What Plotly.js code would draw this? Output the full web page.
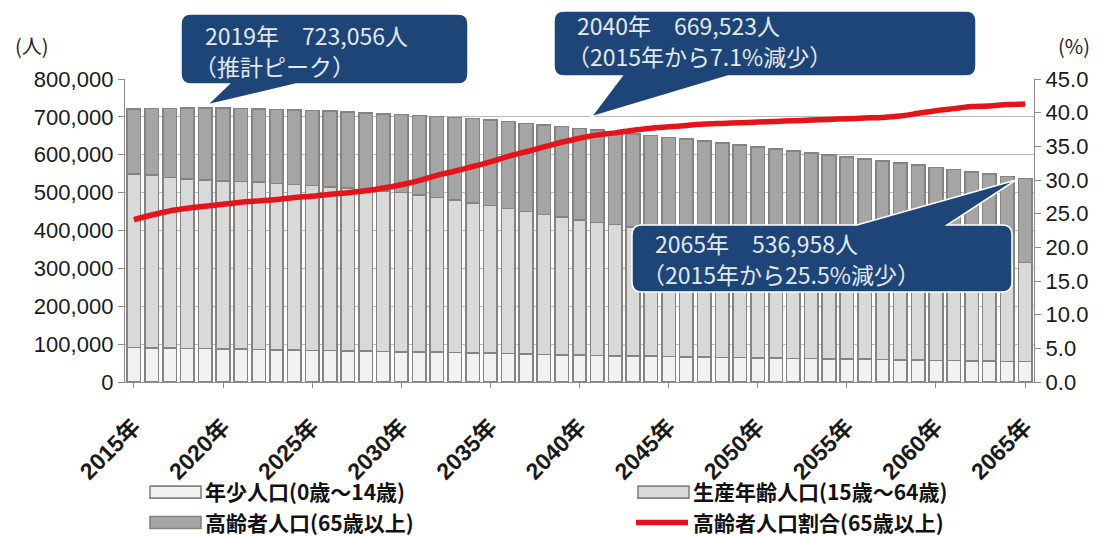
<!DOCTYPE html>
<html>
<head>
<meta charset="utf-8">
<script src="https://cdn.plot.ly/plotly-3.0.1.min.js"></script>
<style>
  html, body { margin: 0; padding: 0; background: #ffffff; }
  #chart { width: 1104px; height: 536px; }
</style>
</head>
<body>
<div id="chart"></div>
<script>
// ---------------- data ----------------
const years = [2015,2016,2017,2018,2019,2020,2021,2022,2023,2024,2025,2026,2027,2028,2029,2030,
  2031,2032,2033,2034,2035,2036,2037,2038,2039,2040,2041,2042,2043,2044,2045,2046,2047,2048,2049,2050,
  2051,2052,2053,2054,2055,2056,2057,2058,2059,2060,2061,2062,2063,2064,2065];

const tickYears = [2015,2020,2025,2030,2035,2040,2045,2050,2055,2060,2065];
const tickLabels = ["2015年","2020年","2025年","2030年","2035年","2040年","2045年","2050年","2055年","2060年","2065年"];

// 年少人口 (0歳～14歳)
const young = [91000,90000,89000,88500,88000,87500,86500,85500,84800,84000,83500,83000,82000,81200,80500,80000,
  79500,78500,77500,76500,76000,75000,74000,73000,72000,71000,70000,69000,68500,68000,67500,66500,66000,65000,64500,64000,
  63000,62500,62000,61500,61000,60000,59500,58500,58000,57000,56500,55500,55000,54500,54000];

// 生産年齢人口 (15歳～64歳)
const working = [458100,456500,451400,447500,446000,443500,443000,442000,439700,437000,435500,432000,430000,427300,424500,420500,
  414500,408500,402500,396500,390000,383500,376000,369500,363000,356500,351500,346500,341500,337300,333500,330300,326500,323800,320500,317200,
  314400,311100,307700,304300,300900,298100,294600,291100,286000,281300,276700,272500,268900,264800,261200];

// 高齢者人口 (65歳以上)
const elderly = [171600,175300,182100,186900,189056,191700,192500,193500,195300,197300,197700,199800,200800,202100,203300,206000,
  210000,214500,218500,222200,225500,228800,233000,236100,239100,242023,243400,244700,245400,245300,244800,244200,243600,242300,241000,239700,
  238300,236800,235400,233900,232400,230800,229300,228300,228300,228400,227700,227000,225100,223800,221758];

// 高齢者人口割合 (65歳以上, %)
const ratio = [24.1,24.8,25.4,25.8,26.1,26.4,26.7,26.9,27.1,27.4,27.6,27.9,28.1,28.4,28.8,29.3,
  29.9,30.7,31.3,32.0,32.7,33.5,34.2,34.9,35.6,36.2,36.7,37.0,37.4,37.7,37.9,38.1,38.3,38.4,38.5,38.6,
  38.7,38.8,38.9,39.0,39.1,39.2,39.3,39.5,39.9,40.3,40.6,40.9,41.0,41.2,41.3];

const seriesNames = ["年少人口(0歳～14歳)","生産年齢人口(15歳～64歳)","高齢者人口(65歳以上)","高齢者人口割合(65歳以上)"];

const callout1 = ["2019年　723,056人", "（推計ピーク）"];
const callout2 = ["2040年　669,523人", "（2015年から7.1%減少）"];
const callout3 = ["2065年　536,958人", "（2015年から25.5%減少）"];

// ---------------- layout helpers ----------------
const M = { l: 125, r: 70, t: 79, b: 154, autoexpand: false };
const W = 1104, H = 536;
const PW = W - M.l - M.r, PH = H - M.t - M.b;
const px = v => (v - M.l) / PW;
const py = v => (H - M.b - v) / PH;
const pt = (x, y) => px(x).toFixed(5) + ',' + py(y).toFixed(5);

function bubble(x0, y0, x1, y1, r, side, b1, b2, tx, ty) {
  let d = 'M' + pt(x0 + r, y0);
  if (side === 'top') d += ' L' + pt(b1, y0) + ' L' + pt(tx, ty) + ' L' + pt(b2, y0);
  d += ' L' + pt(x1 - r, y0) + ' Q' + pt(x1, y0) + ' ' + pt(x1, y0 + r);
  d += ' L' + pt(x1, y1 - r) + ' Q' + pt(x1, y1) + ' ' + pt(x1 - r, y1);
  if (side === 'bottom') d += ' L' + pt(b2, y1) + ' L' + pt(tx, ty) + ' L' + pt(b1, y1);
  d += ' L' + pt(x0 + r, y1) + ' Q' + pt(x0, y1) + ' ' + pt(x0, y1 - r);
  d += ' L' + pt(x0, y0 + r) + ' Q' + pt(x0, y0) + ' ' + pt(x0 + r, y0) + ' Z';
  return d;
}

const boxFill = '#1d4577';
const shapes = [
  bubble(181, 14, 468, 84, 10, 'bottom', 229, 296, 207, 105),
  bubble(554, 11, 976, 76, 10, 'bottom', 622, 728, 591, 117),
  bubble(632, 225, 1012, 292, 10, 'top', 857, 947, 1016, 180)
].map(p => ({
  type: 'path', xref: 'paper', yref: 'paper', path: p,
  fillcolor: boxFill, line: { color: '#ffffff', width: 1.5 }, layer: 'above'
}));

const cjk = '"Noto Sans CJK JP", "Noto Sans", sans-serif';
const boxFont = { family: cjk, size: 23, color: '#e3e8f1' };
function txt(x, y, s) {
  return { xref: 'paper', yref: 'paper', x: px(x), y: py(y), xanchor: 'left', yanchor: 'middle',
           text: s, showarrow: false, font: boxFont };
}
const annotations = [
  txt(203, 35, callout1[0]), txt(192, 66, callout1[1]),
  txt(575, 25, callout2[0]), txt(565, 56, callout2[1]),
  txt(653, 243, callout3[0]), txt(640, 274, callout3[1]),
  { xref: 'paper', yref: 'paper', x: px(32), y: py(46), xanchor: 'center', yanchor: 'middle',
    text: '(人)', showarrow: false, font: { family: cjk, size: 20, color: '#222' } },
  { xref: 'paper', yref: 'paper', x: px(1074), y: py(46), xanchor: 'center', yanchor: 'middle',
    text: '(%)', showarrow: false, font: { family: cjk, size: 20, color: '#222' } }
];

const barLine = { color: '#878380', width: 1.6 };
const traces = [
  { type: 'bar', name: seriesNames[0], x: years, y: young, marker: { color: '#f2f2f2', line: barLine }, legend: 'legend' },
  { type: 'bar', name: seriesNames[1], x: years, y: working, marker: { color: '#d9d9d9', line: barLine }, legend: 'legend2' },
  { type: 'bar', name: seriesNames[2], x: years, y: elderly, marker: { color: '#a5a5a5', line: barLine }, legend: 'legend' },
  { type: 'scatter', mode: 'lines', name: seriesNames[3], x: years, y: ratio, yaxis: 'y2', legend: 'legend2',
    line: { color: '#e5141b', width: 5.5, shape: 'spline', smoothing: 0.8 } }
];

const numFont = { family: '"Liberation Sans", Arial, sans-serif', size: 22, color: '#1a1a1a' };
const legFont = { family: cjk, size: 21, color: '#111', weight: 'bold' };

const layout = {
  width: W, height: H,
  margin: M,
  paper_bgcolor: '#ffffff', plot_bgcolor: '#ffffff',
  barmode: 'stack', bargap: 0.24,
  showlegend: true,
  xaxis: {
    range: [2014.5, 2065.5], tickvals: tickYears, ticktext: tickLabels, tickangle: -45,
    tickfont: { family: '"Liberation Sans", ' + cjk, size: 23, color: '#1a1a1a', weight: 'bold' },
    ticklabelstandoff: 16, automargin: false,
    showline: true, linecolor: '#8c8c8c', linewidth: 1.2, ticks: 'outside', ticklen: 5, tickcolor: '#8c8c8c',
    showgrid: false, zeroline: false, fixedrange: true
  },
  yaxis: {
    range: [0, 800000], dtick: 100000, tickformat: ',d', tickfont: numFont, automargin: false,
    showline: true, linecolor: '#8c8c8c', linewidth: 1.2, ticks: 'outside', ticklen: 6, tickcolor: '#8c8c8c',
    showgrid: true, gridcolor: '#b8b8b8', gridwidth: 1, zeroline: false, fixedrange: true
  },
  yaxis2: {
    range: [0, 45], dtick: 5, tickformat: '.1f', tickfont: numFont, overlaying: 'y', side: 'right', automargin: false,
    showline: true, linecolor: '#8c8c8c', linewidth: 1.2, ticks: 'outside', ticklen: 6, tickcolor: '#8c8c8c',
    showgrid: false, zeroline: false, fixedrange: true
  },
  legend: {
    orientation: 'v', x: px(143), xanchor: 'left', y: py(472), yanchor: 'top', traceorder: 'normal',
    font: legFont, bgcolor: 'rgba(0,0,0,0)', itemwidth: 52, tracegroupgap: 0
  },
  legend2: {
    orientation: 'v', x: px(631), xanchor: 'left', y: py(472), yanchor: 'top', traceorder: 'normal',
    font: legFont, bgcolor: 'rgba(0,0,0,0)', itemwidth: 52, tracegroupgap: 0
  },
  shapes: shapes,
  annotations: annotations
};

// widen the square bar swatches of the legend into flat rectangles like the original
function widenSwatches() {
  const root = document.getElementById('chart');
  root.querySelectorAll('g.legendpoints path').forEach(p => {
    const d = (p.getAttribute('d') || '').replace(/\s/g, '');
    if (d === 'M6,6H-6V-6H6Z' || /^M6,6H-6V-6H6Z$/i.test(d)) {
      p.setAttribute('d', 'M27,6H-24V-6H27Z');
    }
  });
}

Plotly.newPlot('chart', traces, layout, { displayModeBar: false, staticPlot: true }).then(() => {
  widenSwatches();
  setTimeout(widenSwatches, 0);
  setTimeout(widenSwatches, 200);
});
</script>
</body>
</html>
